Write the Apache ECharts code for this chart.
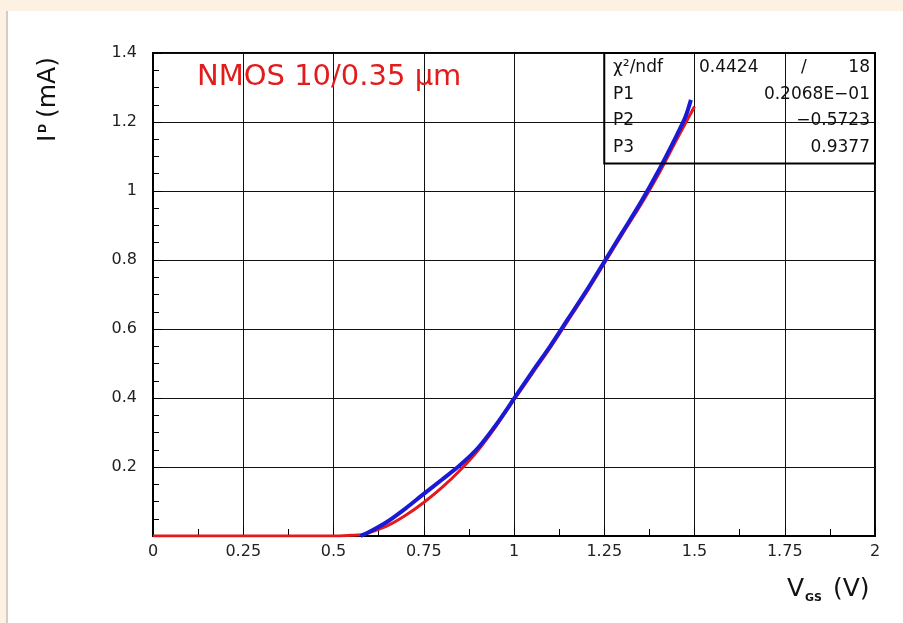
<!DOCTYPE html>
<html>
<head>
<meta charset="utf-8">
<script src="https://cdn.jsdelivr.net/npm/echarts@6/dist/echarts.min.js"></script>
<style>
  html, body { margin: 0; padding: 0; background: #fff; }
  #chart { width: 903px; height: 623px; }
</style>
</head>
<body>
<div id="chart"></div>
<script>
// fit curve (red)
const fitVgs = [0, 0.25, 0.5, 0.55, 0.58, 0.6, 0.65, 0.7, 0.75, 0.8, 0.85, 0.9, 0.95, 1.0, 1.05, 1.1, 1.15, 1.2, 1.25, 1.3, 1.35, 1.4, 1.45, 1.5]
const fitId = [0, 0, 0, 0.002, 0.004, 0.01, 0.03, 0.06, 0.097, 0.14, 0.19, 0.248, 0.318, 0.395, 0.47, 0.545, 0.625, 0.705, 0.79, 0.875, 0.958, 1.048, 1.148, 1.245]
// measured data (blue)
const measVgs = [0.575, 0.6, 0.65, 0.7, 0.75, 0.8, 0.85, 0.9, 0.95, 1.0, 1.05, 1.1, 1.15, 1.2, 1.25, 1.3, 1.35, 1.4, 1.45, 1.475, 1.49]
const measId = [0, 0.012, 0.042, 0.08, 0.122, 0.163, 0.205, 0.255, 0.322, 0.398, 0.475, 0.55, 0.63, 0.71, 0.795, 0.88, 0.965, 1.058, 1.16, 1.215, 1.264]
// fit box
const statNames = ['P1', 'P2', 'P3']
const statValues = ['0.2068E\u221201', '\u22120.5723', '0.9377']

const font = 'DejaVu Sans'
const chart = echarts.init(document.getElementById('chart'))

const option = {
  animation: false,
  grid: {
    left: 153, right: 28, top: 53, bottom: 87,
    show: true, borderColor: '#000', borderWidth: 2
  },
  xAxis: {
    type: 'value', min: 0, max: 2, interval: 0.25,
    axisLine: { lineStyle: { color: '#000', width: 2 } },
    axisTick: { inside: true, length: 9, lineStyle: { color: '#000' } },
    minorTick: { show: true, splitNumber: 2, length: 7, lineStyle: { color: '#000' } },
    splitLine: { lineStyle: { color: '#111', width: 1 } },
    axisLabel: { color: '#222', fontSize: 16, fontFamily: font, margin: 8 }
  },
  yAxis: {
    type: 'value', min: 0, max: 1.4, interval: 0.2,
    axisLine: { lineStyle: { color: '#000', width: 2 } },
    axisTick: { inside: true, length: 9, lineStyle: { color: '#000' } },
    minorTick: { show: true, splitNumber: 4, length: 6, lineStyle: { color: '#000' } },
    splitLine: { lineStyle: { color: '#111', width: 1 } },
    axisLabel: {
      color: '#222', fontSize: 16, fontFamily: font, margin: 16,
      formatter: v => v === 0 ? '' : String(Math.round(v * 10) / 10)
    }
  },
  series: [
    {
      name: 'fit', type: 'line', showSymbol: false, smooth: 0.3,
      lineStyle: { color: '#e5191c', width: 3 },
      data: fitVgs.map((v, i) => [v, fitId[i]])
    },
    {
      name: 'data', type: 'line', showSymbol: false, smooth: 0.3,
      lineStyle: { color: '#1a1ad6', width: 4 },
      data: measVgs.map((v, i) => [v, measId[i]])
    }
  ]
}
chart.setOption(option)

// annotations placed from the axes
const tl = chart.convertToPixel({ gridIndex: 0 }, [1.25, 1.4])
const br = chart.convertToPixel({ gridIndex: 0 }, [2, 1.08])
const rowY = [68, 95, 121, 148]
const txt = (x, y, s, align) => ({
  type: 'text', x: x, y: y,
  style: { text: s, fill: '#111', font: '17px "' + font + '"', align: align || 'left', verticalAlign: 'middle' }
})

const graphics = [
  // page border like the original frame
  { type: 'rect', shape: { x: 0, y: 0, width: 903, height: 11 }, style: { fill: '#fdf1e4' }, z: 100 },
  { type: 'rect', shape: { x: 0, y: 0, width: 6, height: 623 }, style: { fill: '#fdf1e4' }, z: 100 },
  { type: 'rect', shape: { x: 6, y: 11, width: 2, height: 612 }, style: { fill: '#d6ccc2' }, z: 100 },
  // title
  { type: 'text', x: 197, y: 77, style: { text: 'NMOS 10/0.35 \u00b5m', fill: '#e01c1c', font: '29px "' + font + '"', verticalAlign: 'middle' } },
  // fit box
  { type: 'rect', shape: { x: tl[0], y: tl[1], width: br[0] - tl[0], height: br[1] - tl[1] }, style: { fill: 'none', stroke: '#000', lineWidth: 2 }, z: 50 },
  txt(613, rowY[0], '\u03c7\u00b2/ndf'),
  txt(699, rowY[0], '0.4424'),
  txt(801, rowY[0], '/'),
  txt(870, rowY[0], '18', 'right'),
  // axis titles
  {
    type: 'group', x: 48, y: 100, rotation: Math.PI / 2,
    children: [
      { type: 'text', x: -42, y: 0, style: { text: 'I', fill: '#111', font: '25px "' + font + '"', verticalAlign: 'middle' } },
      { type: 'text', x: -33, y: -5, style: { text: 'D', fill: '#111', font: 'bold 11px "' + font + '"', verticalAlign: 'middle' } },
      { type: 'text', x: -18, y: 0, style: { text: '(mA)', fill: '#111', font: '25px "' + font + '"', verticalAlign: 'middle' } }
    ]
  },
  { type: 'text', x: 787, y: 589, style: { text: 'V', fill: '#111', font: '25px "' + font + '"', verticalAlign: 'middle' } },
  { type: 'text', x: 805, y: 598, style: { text: 'GS', fill: '#111', font: 'bold 11px "' + font + '"', verticalAlign: 'middle' } },
  { type: 'text', x: 833, y: 589, style: { text: '(V)', fill: '#111', font: '25px "' + font + '"', verticalAlign: 'middle' } }
]
statNames.forEach((n, i) => {
  graphics.push(txt(613, rowY[i + 1], n))
  graphics.push(txt(870, rowY[i + 1], statValues[i], 'right'))
})
chart.setOption({ graphic: graphics })
</script>
</body>
</html>
